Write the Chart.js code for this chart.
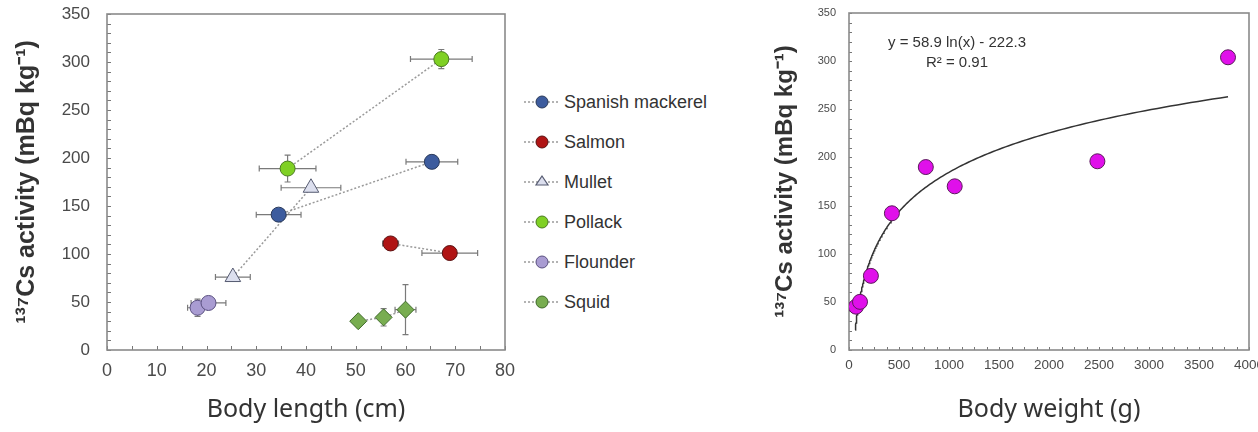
<!DOCTYPE html>
<html>
<head>
<meta charset="utf-8">
<script src="https://cdn.jsdelivr.net/npm/chart.js@4"></script>
<style>
  html, body { margin: 0; padding: 0; background: #fff; overflow: hidden; }
  #wrap { position: relative; width: 1258px; height: 432px; }
  #lenBox { position: absolute; left: 0; top: 0; width: 515px; height: 432px; }
  #wtBox { position: absolute; left: 760px; top: 0; width: 520px; height: 432px; }
  #legend { position: absolute; left: 522px; top: 0; width: 230px; height: 432px;
    font-family: "Liberation Sans", Arial, sans-serif; font-size: 18px; color: #333; }
  .item { position: absolute; left: 0; height: 20px; display: flex; align-items: center; }
  .item svg { display: block; }
  .item span { margin-left: 4px; }
</style>
</head>
<body>
<div id="wrap">
  <div id="lenBox"><canvas id="lenChart" width="515" height="432"></canvas></div>
  <div id="legend"></div>
  <div id="wtBox"><canvas id="wtChart" width="520" height="432"></canvas></div>
</div>
<script>
// left panel: body length vs activity, per species (mean +- sd)
const species = ["Spanish mackerel", "Salmon", "Mullet", "Pollack", "Flounder", "Squid"];

const mackerelLen = [34.5, 65.3];
const mackerelAct = [141, 196];
const mackerelLenErr = [4.5, 5.2];
const mackerelActErr = [0, 0];

const salmonLen = [57, 68.9];
const salmonAct = [111, 101];
const salmonLenErr = [1.6, 5.6];
const salmonActErr = [0, 0];

const mulletLen = [25.3, 41];
const mulletAct = [76, 169];
const mulletLenErr = [3.5, 6];
const mulletActErr = [0, 0];

const pollackLen = [36.3, 67.2];
const pollackAct = [189, 303];
const pollackLenErr = [5.7, 6.2];
const pollackActErr = [14, 10];

const flounderLen = [18.2, 20.4];
const flounderAct = [44, 49];
const flounderLenErr = [2, 3.5];
const flounderActErr = [9, 0];

const squidLen = [50.5, 55.6, 60];
const squidAct = [30, 34, 42];
const squidLenErr = [0.8, 0.8, 2.1];
const squidActErr = [3, 9, 26];

// right panel: body weight vs activity
const bodyWeight = [70, 110, 219, 429, 768, 1057, 2484, 3790];
const weightAct = [45, 50, 77, 142, 190, 170, 196, 304];

// fitted curve y = a ln(x) + b, as printed on the figure
const fitCoef = [58.9, -222.3];
const fitRange = [62, 3790];
const fitLabel = ["y = 58.9 ln(x) - 222.3", "R\u00b2 = 0.91"];

const yTitle = "\u00b9\u00b3\u2077Cs activity (mBq kg\u207b\u00b9)";

const looks = [
  { fill: "#3d5c9e", edge: "#2a3a5a", shape: "circle", r: 7.5 },
  { fill: "#b01414", edge: "#5a1010", shape: "circle", r: 7.5 },
  { fill: "#dcdfee", edge: "#555a70", shape: "triangle", r: 9 },
  { fill: "#7fd024", edge: "#4a7a20", shape: "circle", r: 7.5 },
  { fill: "#a99cd2", edge: "#5a5080", shape: "circle", r: 7.5 },
  { fill: "#78ad50", edge: "#3f6a2a", shape: "rectRot", r: 8.5 }
];

const sets = [
  [mackerelLen, mackerelAct, mackerelLenErr, mackerelActErr],
  [salmonLen, salmonAct, salmonLenErr, salmonActErr],
  [mulletLen, mulletAct, mulletLenErr, mulletActErr],
  [pollackLen, pollackAct, pollackLenErr, pollackActErr],
  [flounderLen, flounderAct, flounderLenErr, flounderActErr],
  [squidLen, squidAct, squidLenErr, squidActErr]
];

const sansFont = '"Liberation Sans", Arial, sans-serif';

// plot frame + inward minor ticks
const framePlugin = {
  id: "frame",
  beforeDatasetsDraw(chart, args, opts) {
    const { ctx, chartArea: a } = chart;
    const xs = chart.scales.x, ys = chart.scales.y;
    ctx.save();
    ctx.strokeStyle = "#777";
    ctx.lineWidth = 1;
    ctx.beginPath();
    for (let v = xs.min; v <= xs.max + 1e-9; v += opts.xStep) {
      const p = Math.round(xs.getPixelForValue(v)) + 0.5;
      ctx.moveTo(p, a.bottom);
      ctx.lineTo(p, a.bottom - opts.len);
    }
    for (let v = ys.min; v <= ys.max + 1e-9; v += opts.yStep) {
      const p = Math.round(ys.getPixelForValue(v)) + 0.5;
      ctx.moveTo(a.left, p);
      ctx.lineTo(a.left + opts.len, p);
    }
    ctx.stroke();
    ctx.strokeStyle = "#8a8a8a";
    ctx.lineWidth = 1.6;
    ctx.strokeRect(a.left, a.top, a.right - a.left, a.bottom - a.top);
    ctx.restore();
  }
};

// x/y error bars with caps
const errPlugin = {
  id: "errBars",
  beforeDatasetsDraw(chart) {
    const ctx = chart.ctx;
    const xs = chart.scales.x, ys = chart.scales.y;
    ctx.save();
    ctx.strokeStyle = "#7a7a7a";
    ctx.lineWidth = 1.2;
    chart.data.datasets.forEach(ds => {
      if (!ds.xErr) return;
      ds.data.forEach((pt, i) => {
        const px = xs.getPixelForValue(pt.x), py = ys.getPixelForValue(pt.y);
        const ex = ds.xErr[i], ey = ds.yErr[i];
        ctx.beginPath();
        if (ex) {
          const l = xs.getPixelForValue(pt.x - ex), r = xs.getPixelForValue(pt.x + ex);
          ctx.moveTo(l, py); ctx.lineTo(r, py);
          ctx.moveTo(l, py - 3); ctx.lineTo(l, py + 3);
          ctx.moveTo(r, py - 3); ctx.lineTo(r, py + 3);
        }
        if (ey) {
          const t = ys.getPixelForValue(pt.y + ey), b = ys.getPixelForValue(pt.y - ey);
          ctx.moveTo(px, t); ctx.lineTo(px, b);
          ctx.moveTo(px - 3, t); ctx.lineTo(px + 3, t);
          ctx.moveTo(px - 3, b); ctx.lineTo(px + 3, b);
        }
        ctx.stroke();
      });
    });
    ctx.restore();
  }
};

// equation text on the right panel
const eqPlugin = {
  id: "eqText",
  afterDraw(chart, args, opts) {
    if (!opts.lines) return;
    const { ctx, chartArea: a } = chart;
    ctx.save();
    ctx.fillStyle = "#333";
    ctx.font = "15px " + sansFont;
    ctx.textAlign = "center";
    ctx.textBaseline = "middle";
    ctx.fillText(opts.lines[0], a.left + 108, a.top + 30);
    ctx.fillText(opts.lines[1], a.left + 108, a.top + 50);
    ctx.restore();
  }
};

function axisOpts(min, max, step, size, pad, fixed, titleText, titleFont, titlePad, isX) {
  return {
    type: "linear",
    min: min, max: max,
    grid: { display: false, drawTicks: false },
    border: { display: false },
    ticks: {
      stepSize: step, color: "#4a4a4a", font: { family: sansFont, size: size }, padding: pad,
      callback: v => String(v)
    },
    title: { display: true, text: titleText, color: "#333", font: titleFont, padding: titlePad },
    afterFit(s) {
      if (isX) { s.height = fixed; s.paddingLeft = 0; s.paddingRight = 0; }
      else { s.width = fixed; s.paddingTop = 0; s.paddingBottom = 0; }
    }
  };
}

const lenDatasets = sets.map((s, k) => ({
  label: species[k],
  data: s[0].map((x, i) => ({ x: x, y: s[1][i] })),
  xErr: s[2],
  yErr: s[3],
  showLine: true,
  borderColor: "#9a9a9a",
  borderWidth: 1.5,
  borderDash: [2, 2],
  pointStyle: looks[k].shape,
  pointRadius: looks[k].r,
  pointBackgroundColor: looks[k].fill,
  pointBorderColor: looks[k].edge,
  pointBorderWidth: 1
}));

new Chart(document.getElementById("lenChart"), {
  type: "scatter",
  data: { datasets: lenDatasets },
  plugins: [framePlugin, errPlugin],
  options: {
    responsive: false,
    animation: false,
    devicePixelRatio: 1,
    layout: { padding: { left: 0, top: 14, right: 7, bottom: 0 } },
    plugins: {
      legend: { display: false },
      tooltip: { enabled: false },
      frame: { xStep: 5, yStep: 10, len: 4 }
    },
    scales: {
      x: axisOpts(0, 80, 10, 18, 10, 82, "Body length (cm)",
        { family: '"Noto Sans", sans-serif', size: 25 }, { top: 0, bottom: 7 }, true),
      y: axisOpts(0, 350, 50, 17, 17, 107, yTitle,
        { family: sansFont, size: 25, weight: "bold" }, { top: 12, bottom: 0 }, false)
    }
  }
});

// legend as html, markers drawn in svg
const legendEl = document.getElementById("legend");
species.forEach((name, k) => {
  const lk = looks[k];
  let mark;
  if (lk.shape === "triangle") {
    mark = '<polygon points="20,4 26,13 14,13" fill="' + lk.fill + '" stroke="' + lk.edge + '" stroke-width="1.2"/>';
  } else {
    mark = '<circle cx="20" cy="10" r="6" fill="' + lk.fill + '" stroke="' + lk.edge + '" stroke-width="1"/>';
  }
  const d = document.createElement("div");
  d.className = "item";
  d.style.top = (92 + k * 40) + "px";
  d.innerHTML = '<svg width="38" height="20"><line x1="2" y1="10" x2="36" y2="10" stroke="#9a9a9a" stroke-width="1.5" stroke-dasharray="2,2"/>' +
    mark + '</svg><span>' + name + '</span>';
  legendEl.appendChild(d);
});

// sample the printed fit curve
const fitPts = [];
for (let i = 0; i <= 200; i++) {
  const x = fitRange[0] * Math.pow(fitRange[1] / fitRange[0], i / 200);
  fitPts.push({ x: x, y: fitCoef[0] * Math.log(x) + fitCoef[1] });
}

new Chart(document.getElementById("wtChart"), {
  type: "scatter",
  data: {
    datasets: [
      {
        label: "Activity",
        data: bodyWeight.map((x, i) => ({ x: x, y: weightAct[i] })),
        pointRadius: 7.5,
        pointBackgroundColor: "#e010ea",
        pointBorderColor: "#5a1a5a",
        pointBorderWidth: 1,
        order: 1
      },
      {
        label: "Fit",
        data: fitPts,
        showLine: true,
        pointRadius: 0,
        borderColor: "#333",
        borderWidth: 1.5,
        order: 2
      }
    ]
  },
  plugins: [framePlugin, eqPlugin],
  options: {
    responsive: false,
    animation: false,
    devicePixelRatio: 1,
    layout: { padding: { left: 0, top: 13, right: 31, bottom: 0 } },
    plugins: {
      legend: { display: false },
      tooltip: { enabled: false },
      frame: { xStep: 125, yStep: 10, len: 3 },
      eqText: { lines: fitLabel }
    },
    scales: {
      x: axisOpts(0, 4000, 500, 13.5, 7, 82, "Body weight (g)",
        { family: '"Noto Sans", sans-serif', size: 25 }, { top: 0, bottom: 7 }, true),
      y: axisOpts(0, 350, 50, 11, 13, 89, yTitle,
        { family: sansFont, size: 24, weight: "bold" }, { top: 11, bottom: 0 }, false)
    }
  }
});
</script>
</body>
</html>
